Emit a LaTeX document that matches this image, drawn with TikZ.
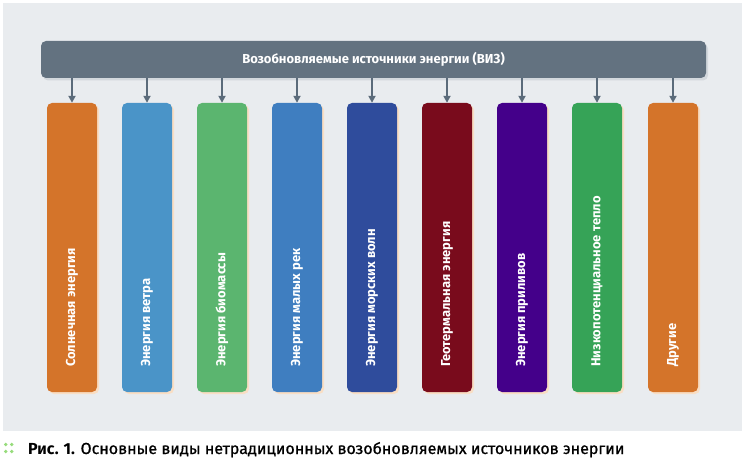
\documentclass[tikz,border=0pt]{standalone}
\usepackage{fontspec}
\setmainfont{Fira Sans}
\newfontfamily\condfont{Fira Sans}
\newfontfamily\capfont[FakeBold=0.8]{Fira Sans}
\usepackage{tikz}
\usetikzlibrary{arrows.meta,shadows}
\definecolor{bggray}{HTML}{E9ECEF}
\definecolor{bargray}{HTML}{637280}
\definecolor{barshade}{HTML}{D3D8DD}
\definecolor{arrgray}{HTML}{5B6B7A}
\definecolor{peach}{HTML}{F9DEC4}
\definecolor{dotgreen}{HTML}{97DC7C}
\definecolor{srcA}{HTML}{D4742A}
\definecolor{srcB}{HTML}{4A94C8}
\definecolor{srcC}{HTML}{5BB56F}
\definecolor{srcD}{HTML}{3F7EC0}
\definecolor{srcE}{HTML}{2F4C9C}
\definecolor{srcF}{HTML}{790B1C}
\definecolor{srcG}{HTML}{44008A}
\definecolor{srcH}{HTML}{36A357}
\definecolor{srcI}{HTML}{D4742A}
\tikzset{
  topbar/.style  = {fill=bargray,rounded corners=5pt,minimum width=665pt,minimum height=37pt,
                    text=white,font=\condfont\bfseries\fontsize{13}{15}\selectfont,
                    drop shadow={shadow xshift=2pt,shadow yshift=-2.5pt,fill=barshade,opacity=1}},
  srcbox/.style  = {rounded corners=5pt,minimum width=50pt,minimum height=289pt,inner sep=0pt,
                    drop shadow={shadow xshift=2pt,shadow yshift=-2pt,fill=peach,opacity=1}},
  srclbl/.style  = {rotate=90,anchor=west,inner sep=0pt,text=white,
                    font=\condfont\bfseries\fontsize{13}{15}\selectfont},
  downarr/.style = {-{Triangle[length=7pt,width=7pt]},line width=1.8pt,arrgray}
}
\begin{document}
\begin{tikzpicture}[x=1pt,y=-1pt]
  \useasboundingbox (0,0) rectangle (746,470);
  \fill[bggray] (3,3) rectangle (742,431);
  \node[topbar] (viz) at (373.5,59.5) {Возобновляемые источники энергии (ВИЗ)};
  \foreach \i/\x/\col/\txt in {1/72/srcA/Солнечная энергия, 2/147/srcB/Энергия ветра,
      3/222/srcC/Энергия биомассы, 4/297/srcD/Энергия малых рек,
      5/372/srcE/Энергия морских волн, 6/447/srcF/Геотермальная энергия,
      7/522/srcG/Энергия приливов, 8/597/srcH/Низкопотенциальное тепло,
      9/673/srcI/Другие}{
    \node[srcbox,fill=\col] (src\i) at (\x,247.5) {};
    \node[srclbl] (lbl\i) at (\x,367) {\txt};
    \draw[downarr] (viz.south -| src\i.north) -- (src\i.north);
  }
  % caption
  \foreach \dx/\dy in {5.7/444.5,11.7/444.5,5.7/451.5,11.7/451.5}
    \fill[dotgreen] (\dx,\dy) circle (1.9);
  \node[anchor=base west,inner sep=0pt,font=\capfont\fontsize{16}{18}\selectfont] (cap) at (28,454)
    {{\condfont\bfseries Рис. 1.} Основные виды нетрадиционных возобновляемых источников энергии};
\end{tikzpicture}
\end{document}
